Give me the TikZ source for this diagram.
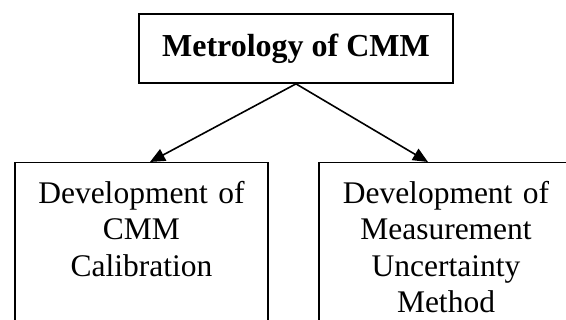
\documentclass[tikz,border=0pt]{standalone}
\usepackage{fontspec}
\setmainfont{Liberation Serif}
\usetikzlibrary{arrows.meta,positioning}

\begin{document}
\begin{tikzpicture}[
    x=1pt, y=-1pt,
    headbox/.style={draw, line width=1.7pt, minimum width=314pt,
                    minimum height=69pt, inner sep=0pt,
                    font=\fontsize{32}{38}\selectfont\bfseries},
    devbox/.style={draw, line width=1.5pt, anchor=north, align=center,
                   text width=220pt, inner xsep=4pt, inner ysep=18.5pt,
                   text depth=150pt,
                   font=\fontsize{31.5}{36.5}\selectfont},
    arr/.style={-{Triangle[length=15pt, width=13pt]}, line width=1.6pt}
  ]
    \useasboundingbox (0,0) rectangle (566,320);

    % === Top ===
    \node[headbox] (cmm) at (296,48.5) {Metrology of CMM};

    % === Branches ===
    \node[devbox, minimum width=253pt] (calib) at (141.5,162)
      {Development of\\CMM\\Calibration};
    \node[devbox, minimum width=254pt] (uncert) at (446,162)
      {Development of\\Measurement\\Uncertainty\\Method};

    \draw[arr] (cmm.south) -- ([xshift=8.5pt]calib.north);
    \draw[arr] (cmm.south) -- ([xshift=-18pt]uncert.north);
\end{tikzpicture}
\end{document}
